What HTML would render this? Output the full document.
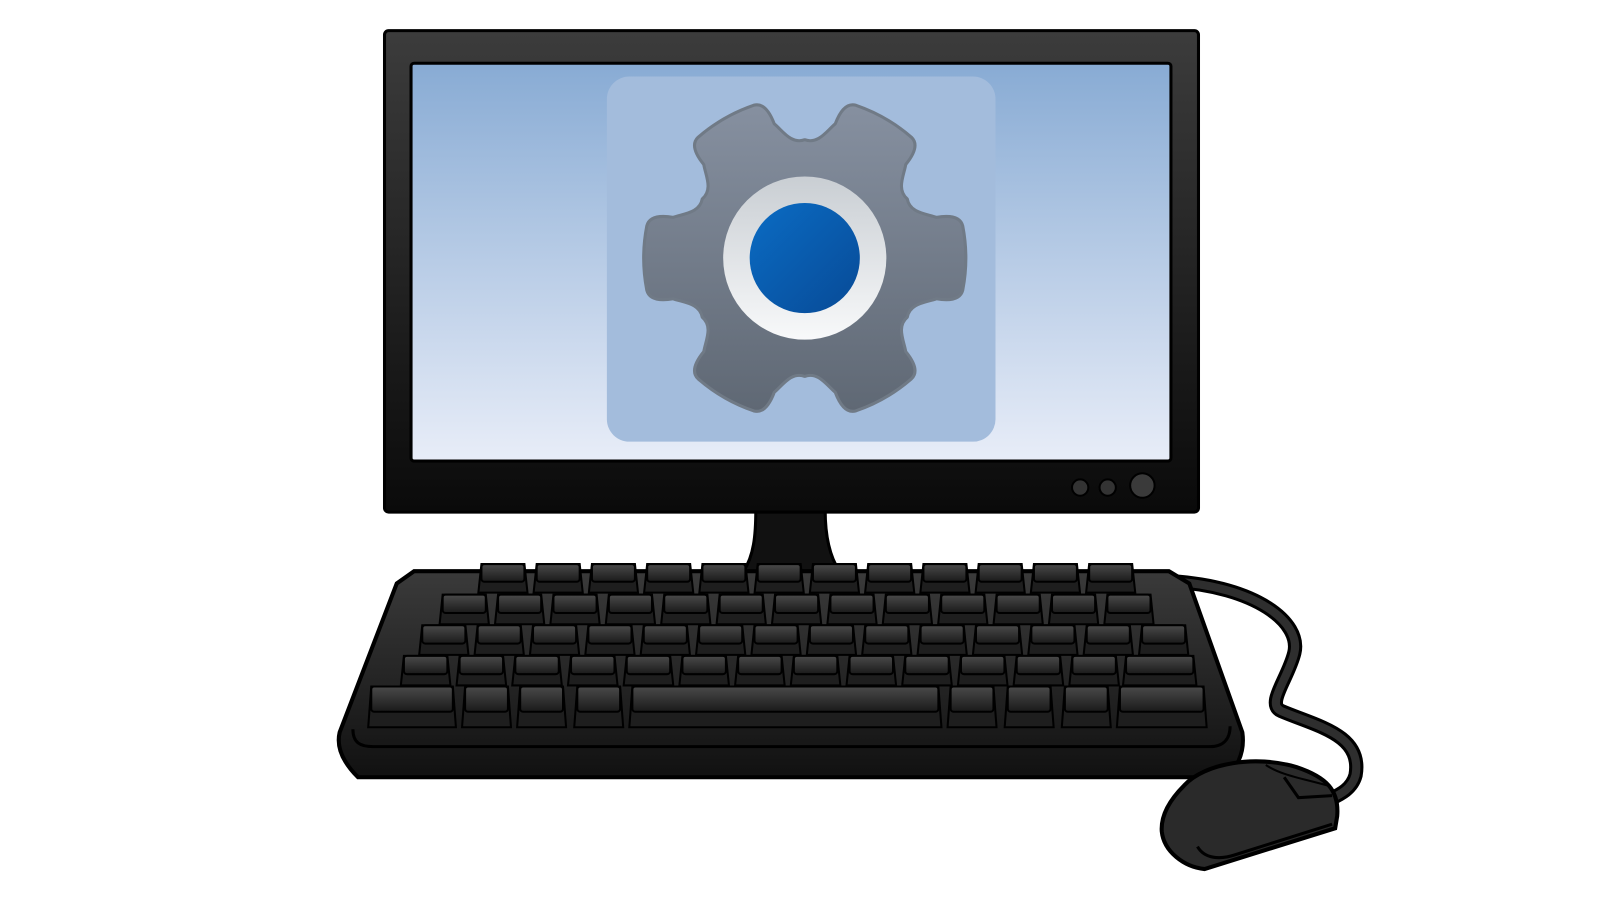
<!DOCTYPE html>
<html><head><meta charset="utf-8"><style>html,body{margin:0;padding:0;background:#fff;width:1600px;height:900px;overflow:hidden}</style></head>
<body>
<svg id="s" width="1600" height="900" viewBox="0 0 1600 900" xmlns="http://www.w3.org/2000/svg">
<defs>
<linearGradient id="scr" x1="0" y1="0" x2="0" y2="1"><stop offset="0" stop-color="#88abd4"/><stop offset="1" stop-color="#e8edf8"/></linearGradient>
<linearGradient id="bez" x1="0" y1="0" x2="0" y2="1"><stop offset="0" stop-color="#3c3c3c"/><stop offset="1" stop-color="#0a0a0a"/></linearGradient>
<linearGradient id="gear" x1="0" y1="0" x2="0" y2="1"><stop offset="0" stop-color="#8690a0"/><stop offset="1" stop-color="#5f6874"/></linearGradient>
<linearGradient id="ring" x1="0" y1="0" x2="0" y2="1"><stop offset="0" stop-color="#c9ced3"/><stop offset="1" stop-color="#f8f9fa"/></linearGradient>
<linearGradient id="blue" x1="0" y1="0" x2="1" y2="1"><stop offset="0" stop-color="#0a6cc4"/><stop offset="1" stop-color="#084a96"/></linearGradient>
<linearGradient id="key" x1="0" y1="0" x2="0" y2="1"><stop offset="0" stop-color="#4a4a4a"/><stop offset="1" stop-color="#1a1a1a"/></linearGradient>
<linearGradient id="kb" x1="0" y1="0" x2="0" y2="1"><stop offset="0" stop-color="#3a3a3a"/><stop offset="1" stop-color="#111"/></linearGradient>
</defs>
<g transform="translate(1,0) scale(1.02)">
<path d="M1148 570 C1230 575 1275 610 1268 640 C1262 665 1240 690 1255 697 C1290 712 1335 720 1328 760 C1324 775 1310 780 1300 785" fill="none" stroke="#000" stroke-width="14" stroke-linecap="round"/>
<path d="M1148 570 C1230 575 1275 610 1268 640 C1262 665 1240 690 1255 697 C1290 712 1335 720 1328 760 C1324 775 1310 780 1300 785" fill="none" stroke="#2e2e2e" stroke-width="8" stroke-linecap="round"/>
<path d="M740 500 L808 500 C808 525 812 545 822 560 L728 560 C738 545 740 525 740 500Z" fill="#111" stroke="#000" stroke-width="3"/>
<rect x="376" y="30" width="798" height="472" rx="4" fill="url(#bez)" stroke="#000" stroke-width="3"/>
<rect x="402" y="62" width="745" height="390" rx="3" fill="url(#scr)" stroke="#000" stroke-width="3"/>
<rect x="594" y="75" width="381" height="358" rx="22" fill="#a3bcdc"/>
<g id="g" transform="translate(788,253)"></g>
<circle cx="1058" cy="478" r="8" fill="#333" stroke="#000" stroke-width="2"/>
<circle cx="1085" cy="478" r="8" fill="#333" stroke="#000" stroke-width="2"/>
<circle cx="1119" cy="476" r="12" fill="#3a3a3a" stroke="#000" stroke-width="2"/>
<path d="M405 560 L1145 560 L1165 572 L1217 718 C1220 740 1210 755 1200 762 L350 762 C338 750 328 735 332 718 L388 572Z" fill="url(#kb)" stroke="#000" stroke-width="4"/>
<path d="M345 715 C345 728 352 732 365 732 L1185 732 C1198 732 1205 725 1205 712" fill="none" stroke="#000" stroke-width="3"/>
<g id="keys"></g>
<g>
<path d="M1160 770 C1180 748 1230 740 1270 752 C1300 762 1312 775 1310 800 L1308 812 L1180 852 C1160 850 1140 835 1138 815 C1137 800 1145 785 1160 770Z" fill="#2a2a2a" stroke="#000" stroke-width="4"/>
<path d="M1258 762 L1272 782 L1305 780" fill="none" stroke="#000" stroke-width="3"/>
<path d="M1240 750 C1255 760 1275 763 1300 770" fill="none" stroke="#000" stroke-width="2"/>
<path d="M1173 830 C1180 842 1195 843 1210 838 L1305 808" fill="none" stroke="#000" stroke-width="3"/>
</g>
</g>
</svg>
<script>
var NS="http://www.w3.org/2000/svg";
function el(t,a,p){var e=document.createElementNS(NS,t);for(var k in a)e.setAttribute(k,a[k]);p.appendChild(e);return e;}
var g=document.getElementById('g');
var R=158,r=135,d="";
function P(rad,a){return (rad*Math.cos(a)).toFixed(1)+" "+(rad*Math.sin(a)).toFixed(1);}
for(var i=0;i<6;i++){
 var c=i*Math.PI/3;
 var a1=c-0.20,a2=c+0.20,b1=c-0.30,b2=c+0.30;
 d+=(d?" L":"M")+P(r,b1)+" Q"+P(R,b1+0.02)+" "+P(R,a1)+" Q"+P(R+3,c)+" "+P(R,a2)+" Q"+P(R,b2-0.02)+" "+P(r,b2);
 var n=c+Math.PI/6;
 d+=" C"+P(r-8,b2+0.05)+" "+P(112,n-0.12)+" "+P(116,n)+" C"+P(112,n+0.12)+" "+P(r-8,c+Math.PI/3-0.35)+" "+P(r,c+Math.PI/3-0.30);
}
d+="Z";
el('path',{d:d,fill:'url(#gear)','stroke-linejoin':'round',stroke:'#707a86','stroke-width':3},g);
el('circle',{r:80,fill:'url(#ring)'},g);
el('circle',{r:54,fill:'url(#blue)'},g);
var K=document.getElementById('keys');
function key(x,y,w,h){
 el('path',{d:'M'+(x+3)+' '+y+' L'+(x+w-3)+' '+y+' L'+(x+w)+' '+(y+h)+' L'+x+' '+(y+h)+'Z',fill:'#1e1e1e',stroke:'#000','stroke-width':2},K);
 el('rect',{x:x+3,y:y,width:w-6,height:h*0.62,rx:3,fill:'url(#key)',stroke:'#000','stroke-width':2},K);
}
function row(x0,x1,n,y,h){var w=(x1-x0)/n;for(var i=0;i<n;i++)key(x0+i*w+2,y,w-6,h);}
row(466,1116,12,553,28);
row(428,1134,13,583,29);
row(408,1168,14,613,29);
row(390,1100,13,643,29);key(1100,643,72,29);
var y5=673,h5=40;
[[360,86],[452,48],[506,48],[562,48],[616,306],[928,48],[984,48],[1040,48],[1094,88]].forEach(function(k){key(k[0],y5,k[1],h5);});
</script>
</body></html>
